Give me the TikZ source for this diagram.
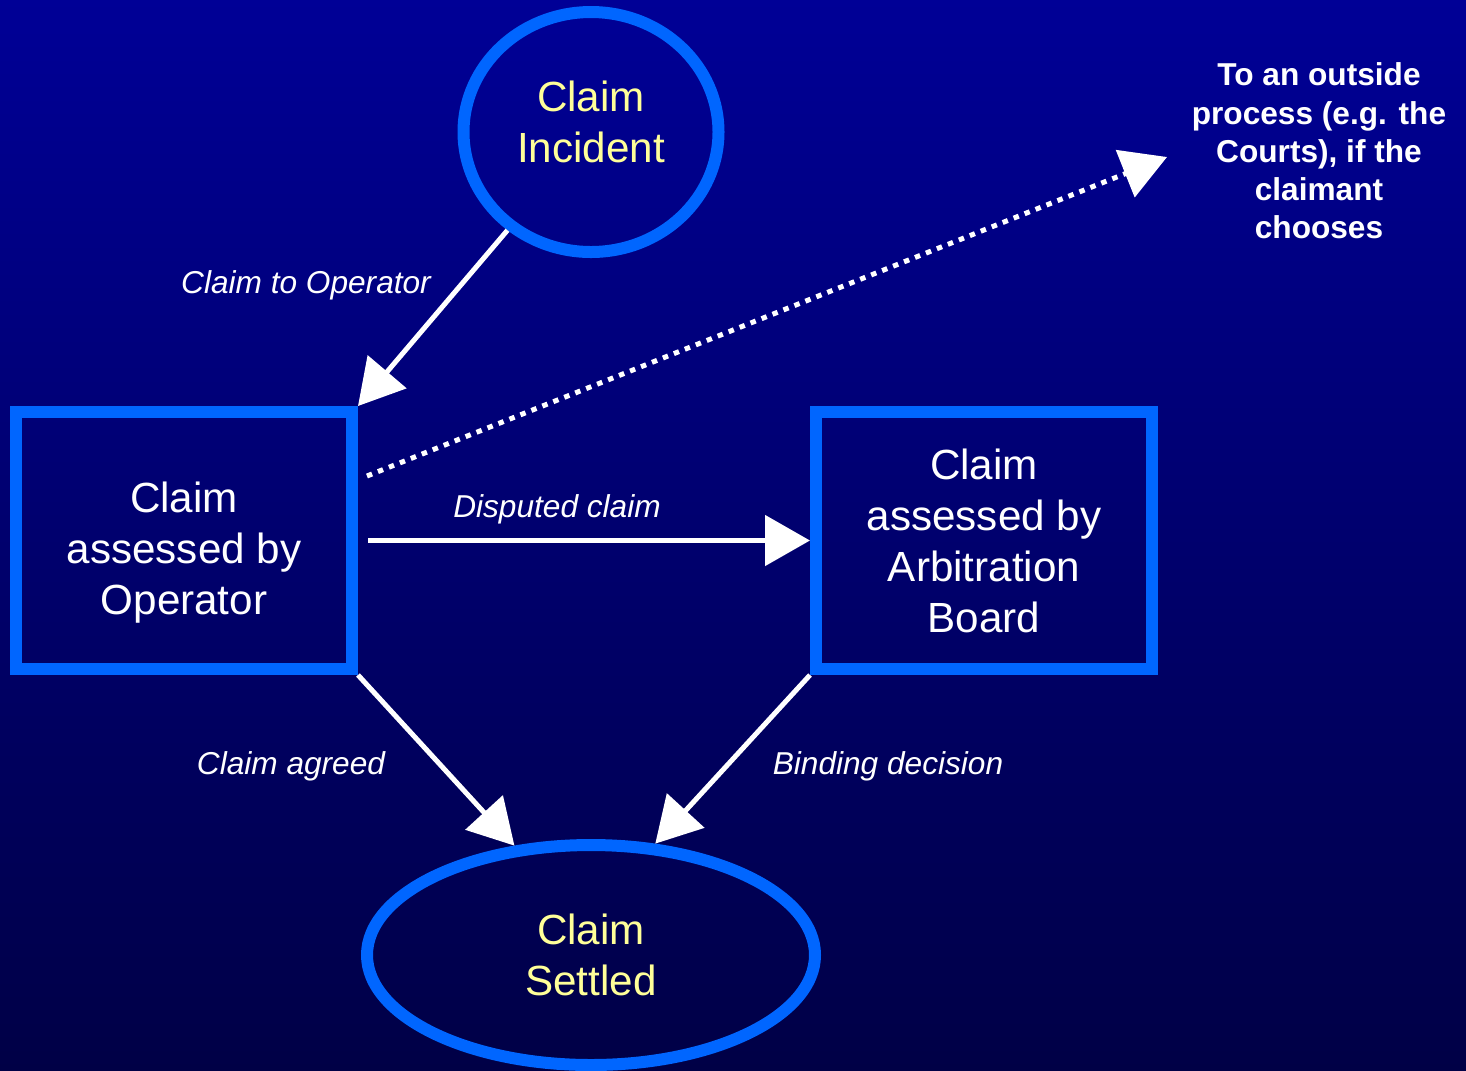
\documentclass[tikz,border=0pt]{standalone}
\usepackage{fontspec}
\setmainfont{Liberation Sans}
\usetikzlibrary{shapes.geometric,arrows.meta}
\definecolor{bgtop}{RGB}{0,0,150}
\definecolor{bgbottom}{RGB}{0,0,70}
\definecolor{rim}{RGB}{0,102,255}
\definecolor{paleyellow}{RGB}{255,255,153}

\begin{document}
\begin{tikzpicture}[
    claimstate/.style={draw=rim, line width=0.12cm, ellipse, inner sep=0pt,
        text=paleyellow, align=center, font=\fontsize{12}{14.5}\selectfont},
    assessbox/.style={draw=rim, line width=0.12cm, rectangle, inner sep=0pt,
        minimum width=3.36cm, minimum height=2.57cm,
        text=white, align=center, font=\fontsize{12}{14.5}\selectfont},
    flow/.style={white, line width=0.05cm, -{Triangle[length=0.45cm,width=0.5cm]}},
    flowlabel/.style={text=white, font=\fontsize{9}{10.9}\selectfont\itshape}
]
    % Fondo
    \useasboundingbox (0,0) rectangle (14.66,-10.70);
    \shade [top color=bgtop, bottom color=bgbottom] (0,0) rectangle (14.66,-10.70);
    % Estados
    \node [claimstate, minimum width=2.55cm, minimum height=2.40cm, text depth=0.2cm] (incident) at (5.91,-1.32) {Claim\\Incident};
    \node [claimstate, minimum width=4.48cm, minimum height=2.20cm] (settled) at (5.91,-9.55) {Claim\\Settled};
    % Cajas de evaluacion
    \node [assessbox] (operator) at (1.84,-5.405) {\rule{0pt}{0.55cm}Claim\\assessed by\\Operator};
    \node [assessbox] (board) at (9.84,-5.405) {Claim\\assessed by\\Arbitration\\Board};
    % Proceso externo
    \node [text=white, align=center, font=\fontsize{9}{10.9}\selectfont\bfseries] (outside) at (13.19,-1.51)
        {To an outside\\process (e.g. the\\Courts), if the\\claimant\\chooses};
    \coordinate (courts) at (11.67,-1.57);
    % Flechas
    \draw [flow] (incident) -- (operator.north east);
    \draw [flow] ([xshift=0.1cm]operator.east) -- (board.west);
    \draw [flow] (operator.south east) -- (settled.125);
    \draw [flow] (board.south west) -- (settled.60);
    \draw [flow, dash pattern=on 0.055cm off 0.063cm] ([xshift=0.09cm,yshift=0.645cm]operator.east) -- (courts);
    % Etiquetas
    \node [flowlabel] (lblclaim) at (3.06,-2.85) {Claim to Operator};
    \node [flowlabel] (lbldisputed) at (5.57,-5.09) {Disputed claim};
    \node [flowlabel] (lblagreed) at (2.91,-7.66) {Claim agreed};
    \node [flowlabel] (lblbinding) at (8.88,-7.66) {Binding decision};
\end{tikzpicture}
\end{document}
